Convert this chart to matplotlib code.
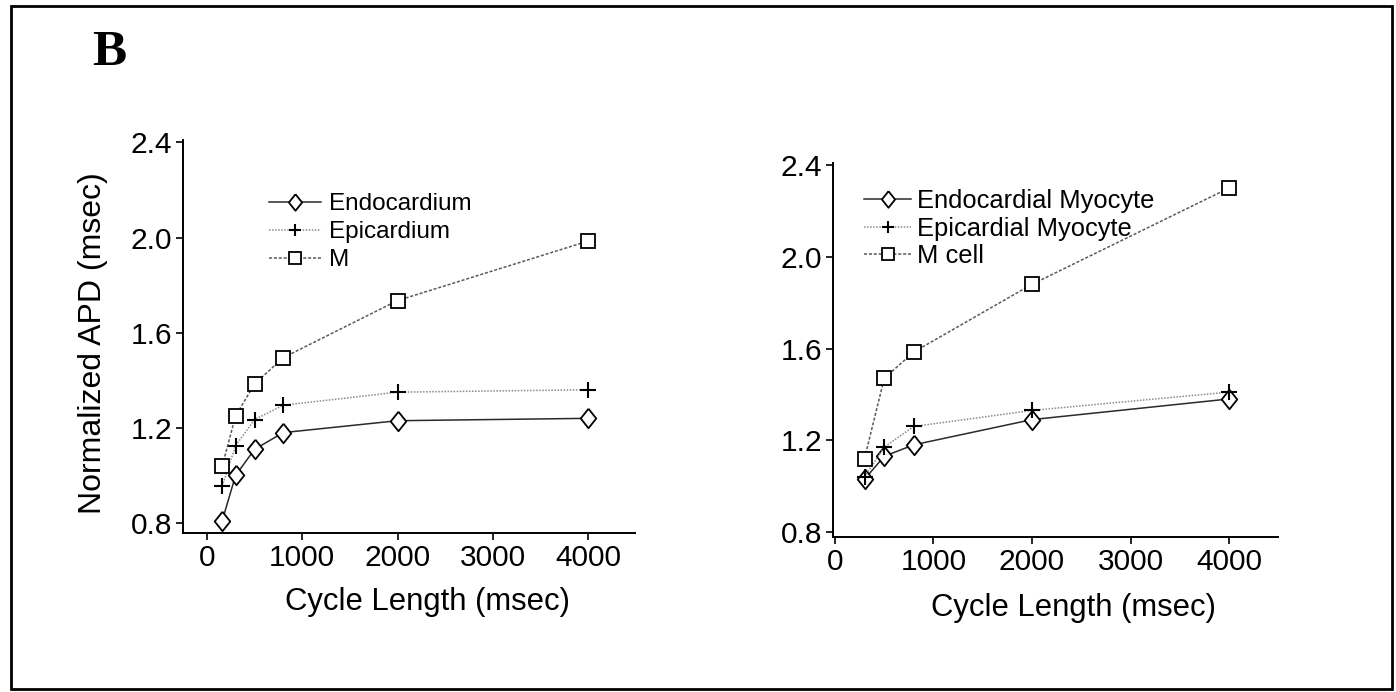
import matplotlib
matplotlib.use('Agg')
import matplotlib.pyplot as plt
from matplotlib.patches import Rectangle

plt.rcParams['font.family'] = ['Liberation Sans', 'DejaVu Sans']

# left panel: tissue preparations
cl_tissue = [160, 300, 500, 800, 2000, 4000]
endo_tissue = [0.81, 1.00, 1.11, 1.18, 1.23, 1.24]
epi_tissue = [0.955, 1.125, 1.235, 1.295, 1.35, 1.36]
m_tissue = [1.04, 1.25, 1.385, 1.495, 1.735, 1.985]
labels_tissue = ['Endocardium', 'Epicardium', 'M']

# right panel: isolated myocytes
cl_cell = [300, 500, 800, 2000, 4000]
endo_cell = [1.03, 1.13, 1.18, 1.29, 1.38]
epi_cell = [1.04, 1.17, 1.26, 1.33, 1.41]
m_cell = [1.12, 1.47, 1.585, 1.88, 2.30]
labels_cell = ['Endocardial Myocyte', 'Epicardial Myocyte', 'M cell']

yticks = [0.8, 1.2, 1.6, 2.0, 2.4]
xticks = [0, 1000, 2000, 3000, 4000]

W, H = 1396, 692
fig = plt.figure(figsize=(W / 100, H / 100), dpi=100)

def px_axes(x0, y0, x1, y1):
  # pixel box (top-left origin) -> figure fraction
  return fig.add_axes([x0 / W, 1 - y1 / H, (x1 - x0) / W, (y1 - y0) / H])

# diamond a bit taller than wide, like the original
diamond = [(0, 1), (0.8, 0), (0, -1), (-0.8, 0), (0, 1)]

styles = [
  dict(color='#2a2a2a', ls='-', lw=1.1, marker=diamond, ms=14, mfc='white', mec='black', mew=1.3),
  dict(color='#8a8a8a', ls=(0, (1, 1)), lw=1.1, marker='+', ms=11, mec='black', mew=1.5),
  dict(color='#5a5a5a', ls=(0, (2, 1.2)), lw=1.1, marker='s', ms=10.5, mfc='white', mec='black', mew=1.3),
]

def draw_panel(ax, x, series, labels, xlim, ylim):
  for y, lab, st in zip(series, labels, styles):
    ax.plot(x, y, label=lab, **st)
  ax.set_xlim(*xlim)
  ax.set_ylim(*ylim)
  ax.set_xticks(xticks)
  ax.set_yticks(yticks)
  ax.set_yticklabels([f'{v:.1f}' for v in yticks])
  for s in ['top', 'right']:
    ax.spines[s].set_visible(False)
  for s in ['left', 'bottom']:
    ax.spines[s].set_linewidth(1.4)
  ax.tick_params(direction='out', length=5, width=1.2, labelsize=21.5, pad=3)

ax1 = px_axes(183, 140, 635, 533)
draw_panel(ax1, cl_tissue, [endo_tissue, epi_tissue, m_tissue], labels_tissue,
           (-252, 4493), (0.758, 2.41))
ax1.legend(loc='upper left', bbox_to_anchor=(0.19, 0.865), frameon=False, fontsize=17.5,
           borderaxespad=0, borderpad=0, handlelength=2.13, handletextpad=0.33,
           labelspacing=0.25, markerscale=0.85)
ax1.set_xlabel('Cycle Length (msec)', fontsize=22.3)
ax1.xaxis.set_label_coords((427 - 183) / 452, (533 - 602) / 393)
ax1.xaxis.label.set_va('center')
ax1.set_ylabel('Normalized APD (msec)', fontsize=23)
ax1.yaxis.set_label_coords((93 - 183) / 452, (533 - 343) / 393)
ax1.yaxis.label.set_va('center')

ax2 = px_axes(833, 163, 1278, 537)
draw_panel(ax2, cl_cell, [endo_cell, epi_cell, m_cell], labels_cell,
           (-20, 4497), (0.778, 2.409))
ax2.legend(loc='upper left', bbox_to_anchor=(0.07, 0.93), frameon=False, fontsize=18.4,
           borderaxespad=0, borderpad=0, handlelength=1.84, handletextpad=0.23,
           labelspacing=0.13, markerscale=0.85)
ax2.set_xlabel('Cycle Length (msec)', fontsize=22.3)
ax2.xaxis.set_label_coords((1073 - 833) / 445, (537 - 608) / 374)
ax2.xaxis.label.set_va('center')

fig.text(109 / W, 1 - 53 / H, 'B', family='Liberation Serif', weight='bold',
         fontsize=37, ha='center', va='center')

fig.patches.append(Rectangle((11 / W, 3 / H), (1392 - 11) / W, (689 - 6) / H,
                             transform=fig.transFigure, fill=False, lw=2, ec='black'))

fig.savefig('out.png', dpi=100)
